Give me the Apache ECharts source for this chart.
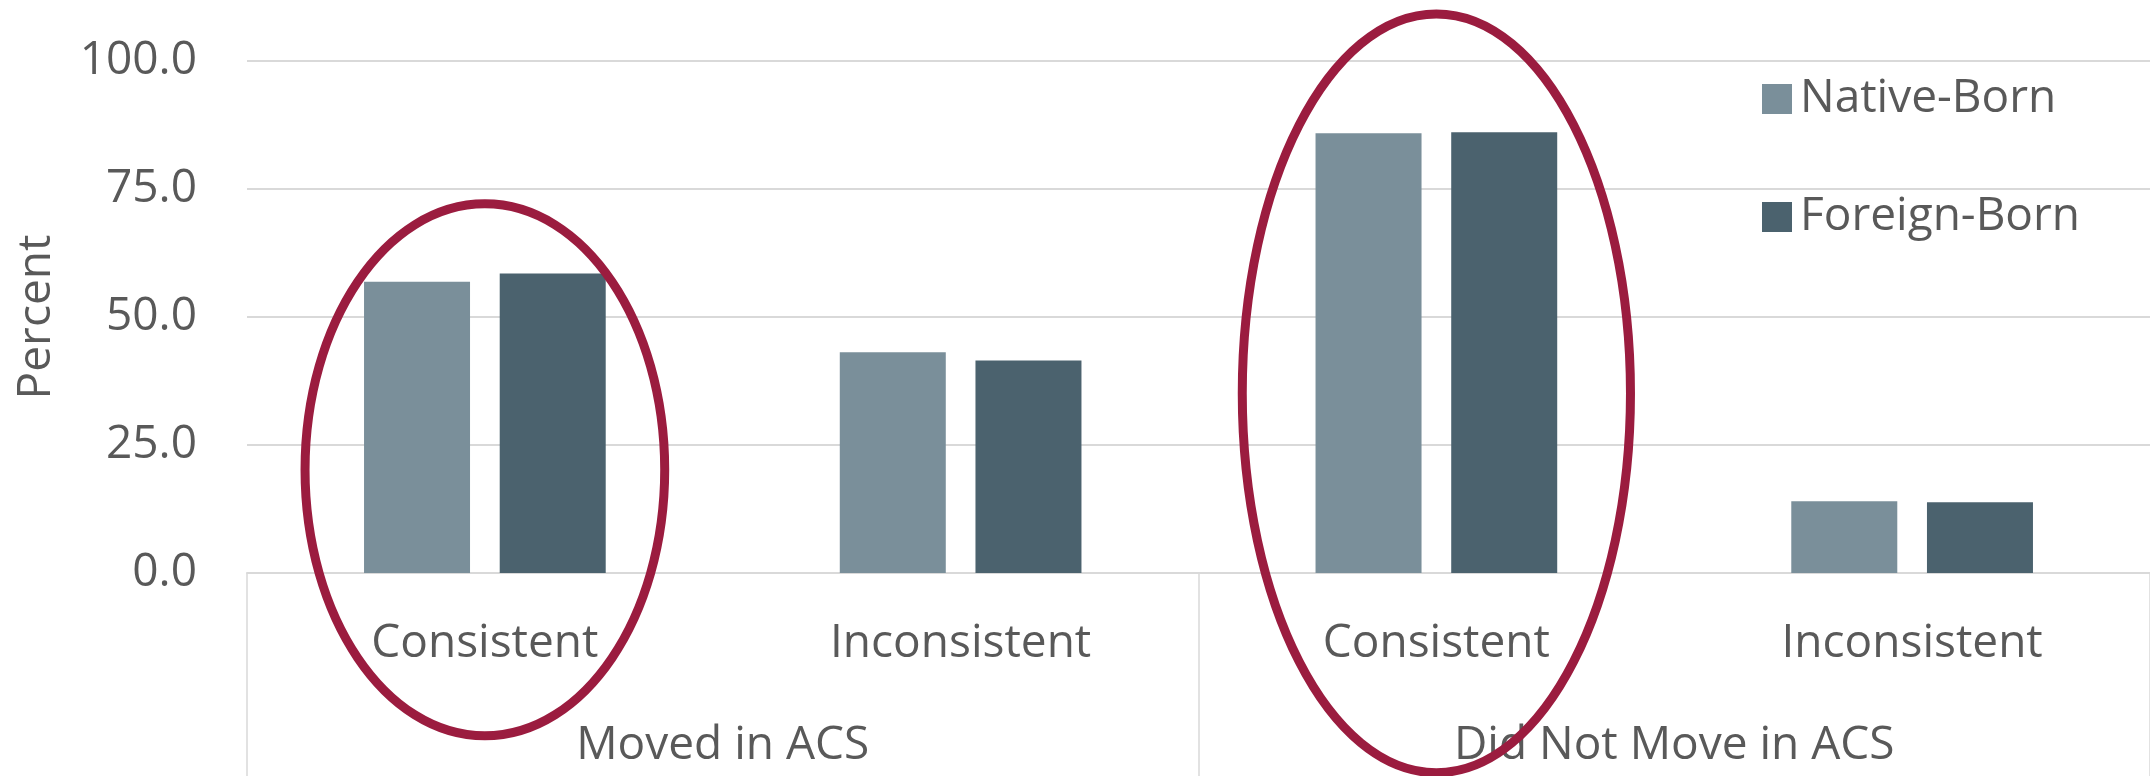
<!DOCTYPE html>
<html>
<head>
<meta charset="utf-8">
<title>Address consistency by nativity</title>
<script src="https://cdn.jsdelivr.net/npm/echarts@6/dist/echarts.min.js"></script>
<style>
  html, body { margin: 0; padding: 0; background: #ffffff; }
  #chart { width: 2150px; height: 776px; }
</style>
</head>
<body>
<div id="chart"></div>
<script>
// Outcome categories (inner axis) and move status groups (outer axis)
const categories = ['Consistent', 'Inconsistent', 'Consistent', 'Inconsistent'];
const groups = ['Moved in ACS', 'Did Not Move in ACS'];
const seriesNames = ['Native-Born', 'Foreign-Born'];

// Percent values per category
const nativeBorn = [56.9, 43.1, 85.9, 14.0];
const foreignBorn = [58.5, 41.5, 86.1, 13.8];

// Y axis ticks
const yMin = 0, yMax = 100, yStep = 25;

// Highlight ovals: [category index, top value, bottom value, half-width in category bands]
const highlights = [
  [0, 72.1, -31.8, 0.378],
  [2, 109.2, -39.0, 0.408]
];

const textColor = '#595959';
const gridColor = '#D9D9D9';
const fontFamily = '"Open Sans", "Noto Sans", sans-serif';
const fontSize = 46;

const chart = echarts.init(document.getElementById('chart'), null, { renderer: 'canvas' });

chart.setOption({
  backgroundColor: '#ffffff',
  animation: false,
  textStyle: { fontFamily: fontFamily },
  grid: { left: 247, right: 0, top: 61, bottom: 203 },
  legend: {
    data: seriesNames,
    orient: 'vertical',
    left: 1757,
    top: 71,
    itemWidth: 30,
    itemHeight: 30,
    itemGap: 72,
    icon: 'rect',
    textStyle: {
      color: textColor,
      fontSize: fontSize,
      lineHeight: 46,
      fontFamily: fontFamily,
      padding: [0, 0, 0, 3]
    }
  },
  xAxis: [
    {
      type: 'category',
      data: categories,
      position: 'bottom',
      offset: 0,
      axisLine: { show: true, lineStyle: { color: gridColor, width: 2 } },
      axisTick: { show: false },
      axisLabel: {
        color: textColor,
        fontSize: fontSize,
        lineHeight: 46,
        fontFamily: fontFamily,
        margin: 48,
        interval: 0
      },
      splitLine: { show: false }
    },
    {
      type: 'category',
      data: groups,
      position: 'bottom',
      offset: 0,
      axisLine: { show: false },
      axisTick: { show: true, length: 204, lineStyle: { color: gridColor, width: 1.5 } },
      axisLabel: {
        color: textColor,
        fontSize: fontSize,
        lineHeight: 46,
        fontFamily: fontFamily,
        margin: 150,
        interval: 0
      },
      splitLine: { show: false }
    }
  ],
  yAxis: {
    type: 'value',
    min: yMin,
    max: yMax,
    interval: yStep,
    name: 'Percent',
    nameLocation: 'middle',
    nameRotate: 90,
    nameGap: 187,
    nameTextStyle: { color: textColor, fontSize: fontSize, fontFamily: fontFamily, lineHeight: 46 },
    axisLine: { show: false },
    axisTick: { show: false },
    axisLabel: {
      color: textColor,
      fontSize: fontSize,
      fontFamily: fontFamily,
      margin: 50,
      formatter: v => v.toFixed(1)
    },
    splitLine: { lineStyle: { color: gridColor, width: 2 } }
  },
  series: [
    {
      name: seriesNames[0],
      type: 'bar',
      data: nativeBorn,
      barWidth: 106,
      barGap: '28%',
      itemStyle: { color: '#7A8F9A' }
    },
    {
      name: seriesNames[1],
      type: 'bar',
      data: foreignBorn,
      barWidth: 106,
      barGap: '28%',
      itemStyle: { color: '#4B626E' }
    },
    {
      name: 'highlight',
      type: 'custom',
      data: highlights,
      clip: false,
      silent: true,
      z: 10,
      renderItem: function (params, api) {
        const top = api.coord([api.value(0), api.value(1)]);
        const bottom = api.coord([api.value(0), api.value(2)]);
        const band = api.size([1, 0])[0];
        return {
          type: 'ellipse',
          shape: {
            cx: top[0],
            cy: (top[1] + bottom[1]) / 2,
            rx: band * api.value(3),
            ry: (bottom[1] - top[1]) / 2
          },
          style: { fill: 'none', stroke: '#9B1C3F', lineWidth: 9 }
        };
      }
    }
  ]
});
</script>
</body>
</html>
